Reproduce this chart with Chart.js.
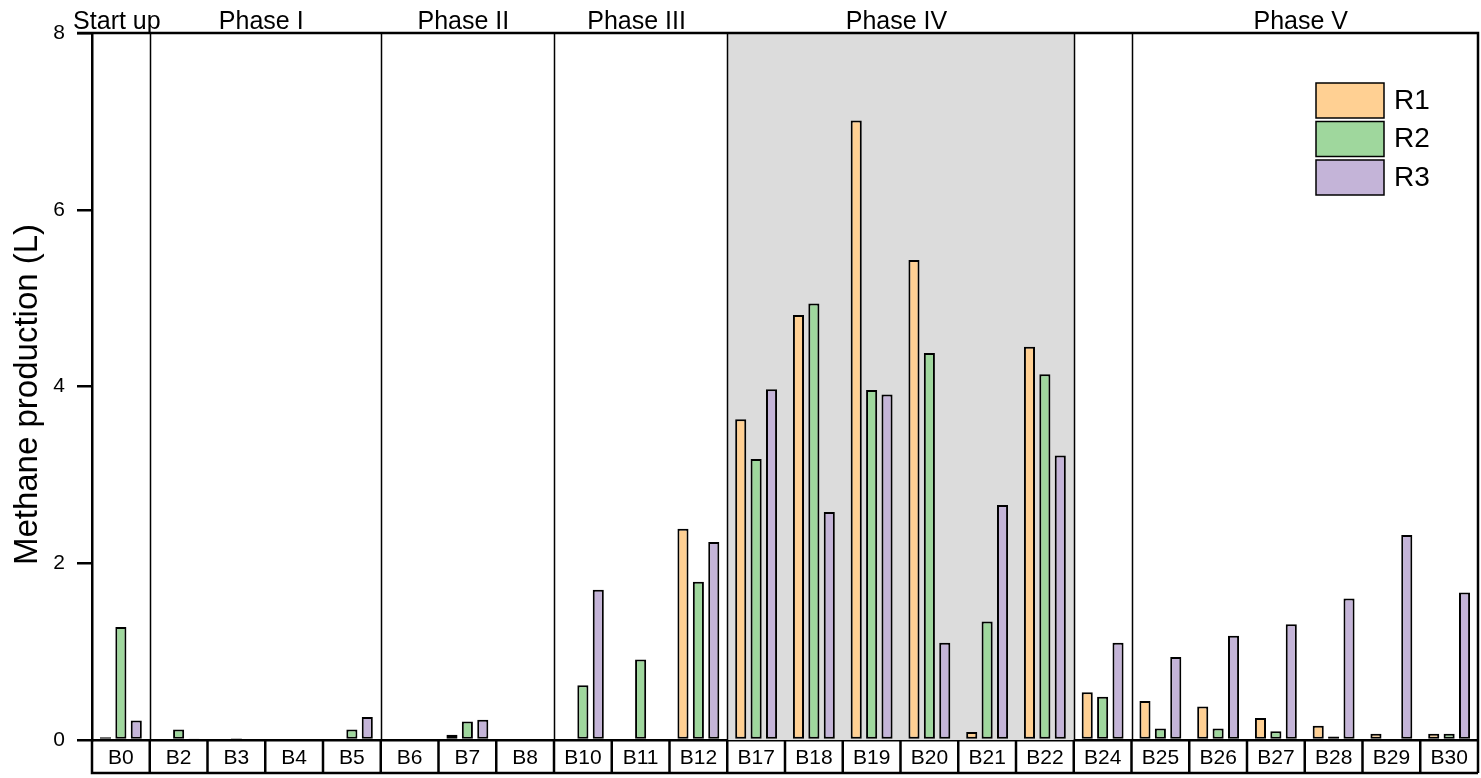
<!DOCTYPE html>
<html lang="en">
<head>
    <meta charset="UTF-8">
    <title>Methane production</title>
    <script src="https://cdn.jsdelivr.net/npm/chart.js"></script>
    <style>
        html, body { margin: 0; padding: 0; background: #fff; }
        #wrap { width: 1481px; height: 778px; }
    </style>
</head>
<body>
    <div id="wrap"><canvas id="methaneChart" width="1481" height="778"></canvas></div>

    <script>
        const batches = ["B0", "B2", "B3", "B4", "B5", "B6", "B7", "B8", "B10", "B11", "B12",
            "B17", "B18", "B19", "B20", "B21", "B22", "B24", "B25", "B26", "B27", "B28", "B29", "B30"];
        const r1 = [0.03, 0, 0, 0, 0, 0, 0.06, 0, 0, 0, 2.39,
            3.63, 4.81, 7.01, 5.43, 0.09, 4.45, 0.54, 0.44, 0.38, 0.25, 0.16, 0.07, 0.07];
        const r2 = [1.28, 0.12, 0.02, 0, 0.12, 0, 0.21, 0, 0.62, 0.91, 1.79,
            3.18, 4.94, 3.96, 4.38, 1.34, 4.14, 0.49, 0.13, 0.13, 0.10, 0.04, 0, 0.07];
        const r3 = [0.22, 0.01, 0, 0, 0.26, 0, 0.23, 0, 1.70, 0, 2.24,
            3.97, 2.58, 3.91, 1.10, 2.66, 3.22, 1.10, 0.94, 1.18, 1.31, 1.60, 2.32, 1.67];
        const yTicks = [0, 2, 4, 6, 8];
        const yTitle = "Methane production (L)";

        // phases: label, first and last batch index
        const phaseLabels = ["Start up", "Phase I", "Phase II", "Phase III", "Phase IV", "", "Phase V"];
        const phaseStart = [0, 1, 5, 8, 11, 17, 18];
        const phaseEnd = [0, 4, 7, 10, 16, 17, 23];
        const shadedPhase = 4;

        const FONT = "'Liberation Sans', Arial, sans-serif";

        function edges(x, i) {
            const half = x.width / batches.length / 2;
            const c = x.getPixelForValue(i);
            return [c - half, c + half];
        }

        const phasePlugin = {
            id: "phases",
            beforeDatasetsDraw(chart) {
                const { ctx, chartArea: a, scales: { x } } = chart;
                ctx.save();
                const l = edges(x, phaseStart[shadedPhase])[0];
                const r = edges(x, phaseEnd[shadedPhase])[1];
                ctx.fillStyle = "#dcdcdc";
                ctx.fillRect(l, a.top, r - l, a.bottom - a.top);
                ctx.strokeStyle = "#000";
                ctx.lineWidth = 1.5;
                for (let p = 0; p < phaseEnd.length - 1; p++) {
                    const xp = Math.round(edges(x, phaseEnd[p])[1]) + 0.5;
                    ctx.beginPath();
                    ctx.moveTo(xp, a.top);
                    ctx.lineTo(xp, a.bottom);
                    ctx.stroke();
                }
                ctx.restore();
            },
            afterDraw(chart) {
                const { ctx, chartArea: a, scales: { x } } = chart;
                ctx.save();
                ctx.strokeStyle = "#000";
                ctx.lineWidth = 2.5;
                const boxBottom = a.bottom + 33;
                // frame top and right
                ctx.beginPath();
                ctx.moveTo(a.left - 15, a.top);
                ctx.lineTo(a.right, a.top);
                ctx.lineTo(a.right, boxBottom);
                ctx.stroke();
                // label boxes under axis
                ctx.beginPath();
                ctx.moveTo(a.left, a.bottom);
                ctx.lineTo(a.left, boxBottom);
                ctx.lineTo(a.right, boxBottom);
                for (let i = 0; i < batches.length - 1; i++) {
                    const xe = edges(x, i)[1];
                    ctx.moveTo(xe, a.bottom);
                    ctx.lineTo(xe, boxBottom);
                }
                ctx.stroke();

                // phase labels
                ctx.fillStyle = "#000";
                ctx.font = "25px " + FONT;
                ctx.textAlign = "center";
                ctx.textBaseline = "alphabetic";
                for (let p = 0; p < phaseLabels.length; p++) {
                    if (!phaseLabels[p]) continue;
                    const l = edges(x, phaseStart[p])[0];
                    const r = edges(x, phaseEnd[p])[1];
                    ctx.fillText(phaseLabels[p], (l + r) / 2 - 4, a.top - 4);
                }

                // y title
                ctx.save();
                ctx.font = "33px " + FONT;
                ctx.translate(37, (a.top + a.bottom) / 2 + 8);
                ctx.rotate(-Math.PI / 2);
                ctx.fillText(yTitle, 0, 0);
                ctx.restore();

                // legend
                const lx = a.right - 162;
                let ly = a.top + 50;
                ctx.font = "28px " + FONT;
                ctx.textAlign = "left";
                ctx.textBaseline = "middle";
                ctx.lineWidth = 1.5;
                chart.data.datasets.forEach(ds => {
                    ctx.fillStyle = ds.backgroundColor;
                    ctx.fillRect(lx, ly, 68, 35);
                    ctx.strokeRect(lx, ly, 68, 35);
                    ctx.fillStyle = "#000";
                    ctx.fillText(ds.label, lx + 78, ly + 18);
                    ly += 38.5;
                });
                ctx.restore();
            }
        };

        document.addEventListener("DOMContentLoaded", () => {
            const ctx = document.getElementById("methaneChart").getContext("2d");
            const bar = { borderColor: "#000", borderWidth: 2, borderSkipped: false,
                categoryPercentage: 0.8, barPercentage: 0.72 };

            new Chart(ctx, {
                type: "bar",
                data: {
                    labels: batches,
                    datasets: [
                        { label: "R1", data: r1, backgroundColor: "#ffd093", ...bar },
                        { label: "R2", data: r2, backgroundColor: "#9fd79d", ...bar },
                        { label: "R3", data: r3, backgroundColor: "#c4b4d8", ...bar }
                    ]
                },
                options: {
                    responsive: false,
                    animation: false,
                    layout: { padding: { top: 33, right: 3, left: 0, bottom: 0 } },
                    plugins: { legend: { display: false }, tooltip: { enabled: false } },
                    scales: {
                        x: {
                            grid: { display: false, drawTicks: false },
                            border: { display: true, color: "#000", width: 2.5 },
                            ticks: { color: "#000", font: { size: 21, family: FONT }, padding: 6,
                                maxRotation: 0, autoSkip: false },
                            afterFit(s) { s.height = 38; }
                        },
                        y: {
                            min: 0, max: 8,
                            afterBuildTicks(s) { s.ticks = yTicks.map(v => ({ value: v })); },
                            grid: { drawOnChartArea: false, drawTicks: true, tickLength: 15,
                                color: "#000", lineWidth: 2.5 },
                            border: { display: true, color: "#000", width: 2.5 },
                            ticks: { color: "#000", font: { size: 21, family: FONT }, padding: 12 },
                            title: { display: false },
                            afterFit(s) { s.width = 92; }
                        }
                    }
                },
                plugins: [phasePlugin]
            });
        });
    </script>
</body>
</html>
